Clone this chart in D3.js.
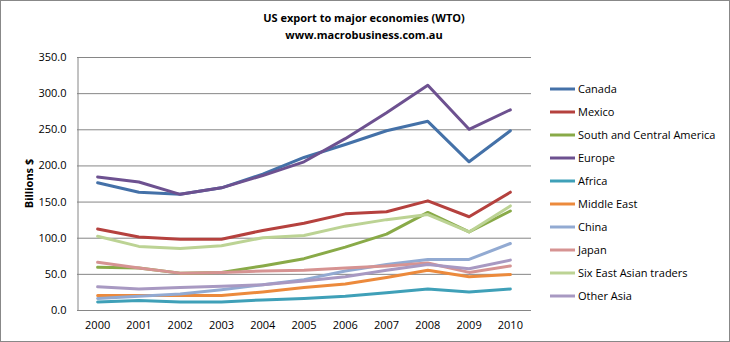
<!DOCTYPE html>
<html>
<head>
<meta charset="utf-8">
<script src="https://cdn.jsdelivr.net/npm/d3@7"></script>
<style>
  body { margin: 0; background: #fff; }
  svg { font-family: "Open Sans", "Noto Sans", sans-serif; }
</style>
</head>
<body>
<script>
// categories
const years = ["2000", "2001", "2002", "2003", "2004", "2005", "2006", "2007", "2008", "2009", "2010"];

// series names, in legend order
const seriesNames = ["Canada", "Mexico", "South and Central America", "Europe", "Africa",
    "Middle East", "China", "Japan", "Six East Asian traders", "Other Asia"];

// values, billions $
const canada = [176, 163, 160, 169, 188, 211, 229, 248, 261, 205, 248];
const mexico = [112, 101, 98, 98, 110, 120, 133, 136, 151, 129, 163];
const southCentralAmerica = [59, 58, 51, 52, 61, 71, 87, 105, 135, 108, 137];
const europe = [184, 177, 160, 169, 186, 205, 237, 273, 311, 250, 277];
const africa = [11, 13, 11, 11, 14, 16, 19, 24, 29, 25, 29];
const middleEast = [20, 20, 20, 20, 25, 31, 36, 45, 55, 46, 49];
const china = [16, 19, 22, 28, 35, 42, 54, 63, 70, 70, 92];
const japan = [66, 58, 51, 52, 54, 55, 58, 61, 65, 52, 61];
const sixEastAsian = [102, 88, 85, 89, 100, 103, 116, 125, 132, 108, 144];
const otherAsia = [32, 29, 31, 33, 35, 40, 46, 55, 63, 57, 69];

// y ticks
const yTicks = [0, 50, 100, 150, 200, 250, 300, 350];

// line colours
const colors = ["#4471A8", "#B5413E", "#89AA48", "#6D5190", "#3FA0B8",
    "#EC8A3C", "#92AAD2", "#D69392", "#BCD394", "#A899C2"];

const seriesValues = [canada, mexico, southCentralAmerica, europe, africa,
    middleEast, china, japan, sixEastAsian, otherAsia];

const W = 730, H = 342;
const plot = { left: 77, right: 531, top: 57, bottom: 310 };

const svg = d3.select("body").append("svg")
    .attr("width", W)
    .attr("height", H);

// outer border
svg.append("rect")
    .attr("x", 0.5).attr("y", 0.5)
    .attr("width", W - 1).attr("height", H - 1)
    .attr("fill", "#fff")
    .attr("stroke", "#888");

// titles
svg.append("text")
    .attr("x", 364).attr("y", 22)
    .attr("text-anchor", "middle")
    .style("font-size", "11px").style("font-weight", "bold")
    .text("US export to major economies (WTO)");
svg.append("text")
    .attr("x", 364).attr("y", 39)
    .attr("text-anchor", "middle")
    .style("font-size", "11px").style("font-weight", "bold")
    .text("www.macrobusiness.com.au");

// scales
const x = d3.scaleBand()
    .domain(years)
    .range([plot.left, plot.right]);
const y = d3.scaleLinear()
    .domain([0, 350])
    .range([plot.bottom, plot.top]);

// gridlines
svg.append("g")
    .selectAll("line")
    .data(yTicks)
    .join("line")
    .attr("x1", plot.left).attr("x2", plot.right)
    .attr("y1", d => y(d) + 0.5).attr("y2", d => y(d) + 0.5)
    .attr("stroke", "#868686");

// y axis
const yAxis = svg.append("g")
    .attr("transform", `translate(${plot.left + 0.5},0)`)
    .call(d3.axisLeft(y).tickValues(yTicks).tickFormat(d3.format(".1f")).tickSize(0).tickPadding(11));
yAxis.select(".domain").attr("stroke", "#868686");
yAxis.selectAll("text")
    .style("font-size", "11px")
    .style("font-family", "Open Sans, Noto Sans, sans-serif")
    .attr("fill", "#000");

// x axis
const xAxis = svg.append("g")
    .attr("transform", `translate(0,${plot.bottom + 0.5})`)
    .call(d3.axisBottom(x).tickSize(0).tickPadding(11));
xAxis.select(".domain").remove();
xAxis.selectAll("text")
    .style("font-size", "11px")
    .style("font-family", "Open Sans, Noto Sans, sans-serif")
    .attr("fill", "#000");

// y axis title
svg.append("text")
    .attr("transform", `translate(33,${(plot.top + plot.bottom) / 2}) rotate(-90)`)
    .attr("text-anchor", "middle")
    .style("font-size", "11px").style("font-weight", "bold")
    .text("Billions $");

// lines
const line = d3.line()
    .x((d, i) => x(years[i]) + x.bandwidth() / 2)
    .y(d => y(d));

svg.append("g")
    .selectAll("path")
    .data(seriesValues)
    .join("path")
    .attr("d", d => line(d))
    .attr("fill", "none")
    .attr("stroke", (d, i) => colors[i])
    .attr("stroke-width", 3)
    .attr("stroke-linejoin", "round")
    .attr("stroke-linecap", "round");

// legend
const legend = svg.append("g")
    .selectAll("g")
    .data(seriesNames)
    .join("g")
    .attr("transform", (d, i) => `translate(550,${89 + i * 23})`);
legend.append("line")
    .attr("x1", 0).attr("x2", 25)
    .attr("stroke", (d, i) => colors[i])
    .attr("stroke-width", 3);
legend.append("text")
    .attr("x", 28).attr("y", 4)
    .style("font-size", "11px")
    .text(d => d);
</script>
</body>
</html>
